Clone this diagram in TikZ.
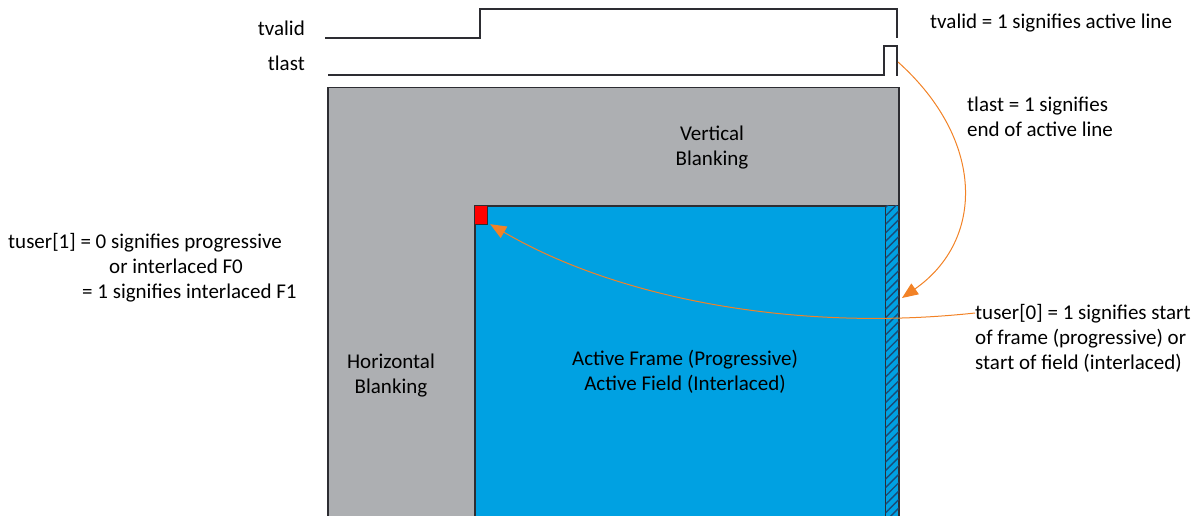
\documentclass[tikz,border=0pt]{standalone}
\usepackage{fontspec}
\setmainfont{Carlito}
\usetikzlibrary{patterns.meta,arrows.meta,calc}
\definecolor{blank}{RGB}{173,175,178}
\definecolor{act}{RGB}{0,161,226}
\definecolor{edge}{RGB}{45,45,50}
\definecolor{note}{RGB}{242,130,38}
\definecolor{hatch}{RGB}{25,75,120}

\begin{document}
\begin{tikzpicture}[x=1pt,y=-1pt,
  font=\fontsize{21}{25}\selectfont,
  lbl/.style={inner sep=0pt, text=black},
  wave/.style={line width=1.3pt, draw=edge},
  region/.style={draw=edge, line width=1.5pt, inner sep=0pt, anchor=north west},
  callout/.style={draw=note, line width=1pt, -{Triangle[length=16pt,width=13pt,fill=note]}}]
\useasboundingbox (0,0) rectangle (1200,516);

% blanking and active regions
\node[region, fill=blank, minimum width=571pt, minimum height=440pt] (frame) at (327,87) {};
\node[region, fill=act, minimum width=424pt, minimum height=320pt] (active) at (474,205) {};
\node[region, line width=1.2pt, fill=act, minimum width=13pt, minimum height=320pt,
      postaction={pattern={Lines[angle=45,distance=6pt,line width=1.4pt]}, pattern color=hatch}] (eol) at (885,205) {};
\node[region, line width=1.2pt, fill=red, minimum width=13pt, minimum height=19pt] (sof) at (474,205) {};

% waveforms
\draw[wave] (325,38) -- (480,38) -- (480,9) -- (897,9) -- (897,38);
\draw[wave] (328,75) -- (884,75) -- (884,46) -- (897,46) -- (897,76);
\coordinate (pulse) at (898,62);
\coordinate (hit) at (902,298);

% signal names
\node[lbl, anchor=base east] (tvalidname) at (305,36) {tvalid};
\node[lbl, anchor=base east] (tlastname) at (305,71) {tlast};

% region labels
\node[lbl, align=center] (vblank) at (712,148) {Vertical\\Blanking};
\node[lbl, align=center] (hblank) at (391,376) {Horizontal\\Blanking};
\node[lbl, align=center] (field) at (685,372) {Active Frame (Progressive)\\Active Field (Interlaced)};

% notes
\node[lbl, anchor=base west] (tvalidnote) at (930,29) {tvalid = 1 signifies active line};
\node[lbl, anchor=west, align=left] (tlastnote) at (967,117) {tlast = 1 signifies\\end of active line};
\node[lbl, anchor=west, align=left] (tuser1note) at (8,268) {tuser[1] = 0 signifies progressive\\\hspace*{101pt}or interlaced F0\\\hspace*{74pt}= 1 signifies interlaced F1};
\node[lbl, anchor=west, align=left] (tuser0note) at (975,338) {tuser[0] = 1 signifies start\\of frame (progressive) or\\start of field (interlaced)};

% callouts
\draw[callout] (pulse) .. controls (985,140) and (985,240) .. (hit);
\draw[callout] (tuser0note.west |- 0,313) .. controls (800,332) and (620,300) .. ($(sof.south east)+(2,-1)$);
\end{tikzpicture}
\end{document}
